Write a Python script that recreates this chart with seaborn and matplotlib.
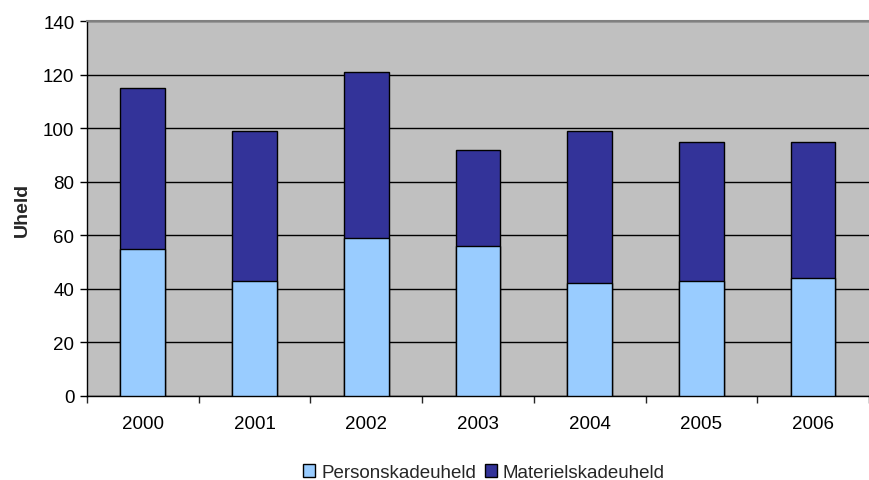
import pandas as pd
import matplotlib
import matplotlib.pyplot as plt
from matplotlib.patches import Patch
import seaborn as sns

years = ["2000", "2001", "2002", "2003", "2004", "2005", "2006"]
personskade = [55, 43, 59, 56, 42, 43, 44]
materielskade = [60, 56, 62, 36, 57, 52, 51]

df = pd.DataFrame({"År": years, "Personskadeuheld": personskade, "Materielskadeuheld": materielskade})
df["Total"] = df["Personskadeuheld"] + df["Materielskadeuheld"]

sns.set_style("white")
matplotlib.rcParams['font.family'] = ['Liberation Sans', 'DejaVu Sans']

light = "#99CCFF"
dark = "#333399"

fig = plt.figure(figsize=(8.69, 4.81), dpi=100)
ax = fig.add_axes([0.1, 0.175, 0.9, 0.779])
ax.set_facecolor("#C0C0C0")

# stacked: draw totals in dark, then the bottom part over it
sns.barplot(data=df, x="År", y="Total", color=dark, width=0.4,
            edgecolor="black", linewidth=1, saturation=1, ax=ax, zorder=3)
sns.barplot(data=df, x="År", y="Personskadeuheld", color=light, width=0.4,
            edgecolor="black", linewidth=1, saturation=1, ax=ax, zorder=3)

ax.set_ylim(0, 140)
ax.set_yticks(range(0, 141, 20))
ax.set_xlim(-0.5, len(years) - 0.5)
ax.yaxis.grid(True, color="black", linewidth=1)
ax.set_axisbelow(True)

ax.set_xlabel("")
ax.set_ylabel("Uheld", fontsize=14, fontweight="bold", labelpad=9)
ax.tick_params(axis="both", labelsize=13.5, colors="black")
ax.tick_params(axis="y", direction="out", length=5, width=1, left=True, pad=4)
ax.tick_params(axis="x", which="major", length=0, pad=14)
ax.set_xticks([i - 0.5 for i in range(len(years) + 1)], minor=True)
ax.tick_params(axis="x", which="minor", direction="out", length=5, width=1, bottom=True)

ax.spines["top"].set_color("#808080")
ax.spines["top"].set_linewidth(1.5)
ax.spines["right"].set_visible(False)
for s in ["left", "bottom"]:
    ax.spines[s].set_color("black")
    ax.spines[s].set_linewidth(1)

handles = [Patch(facecolor=light, edgecolor="black", label="Personskadeuheld"),
           Patch(facecolor=dark, edgecolor="black", label="Materielskadeuheld")]
fig.legend(handles=handles, loc="lower center", bbox_to_anchor=(0.557, -0.022), ncol=2,
           frameon=False, fontsize=13.5, handlelength=0.64, handleheight=0.64,
           handletextpad=0.32, columnspacing=0.48, borderpad=0)

fig.savefig("out.png", dpi=100)
